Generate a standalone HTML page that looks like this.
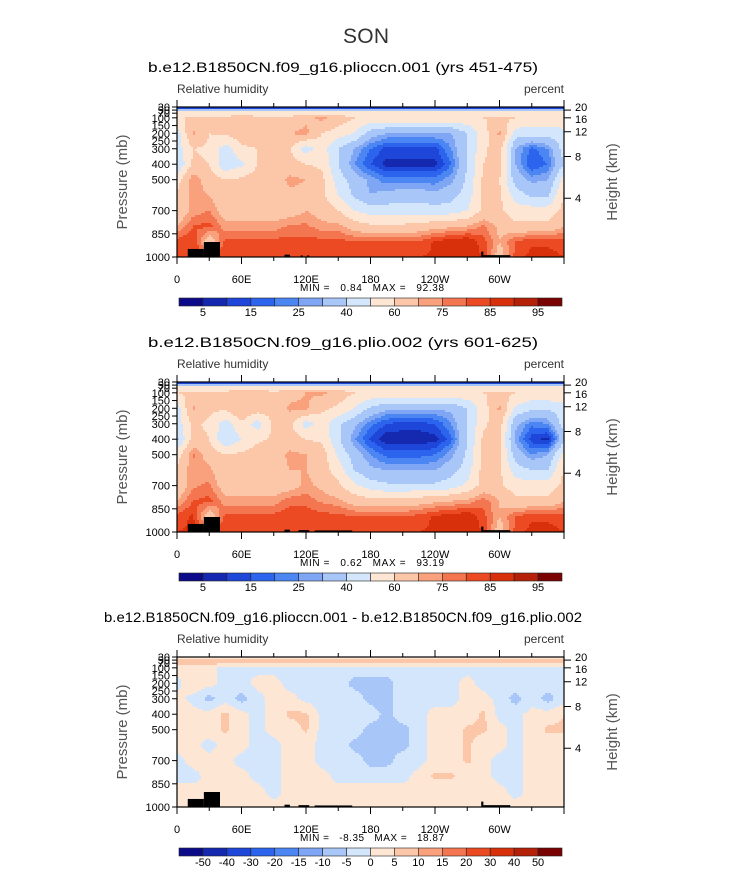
<!DOCTYPE html>
<html><head><meta charset="utf-8"><style>
html,body{margin:0;padding:0;background:#fff;}
svg{display:block;font-family:"Liberation Sans",sans-serif;}
</style></head><body>
<svg id="chart" width="733" height="888" viewBox="0 0 733 888" xmlns="http://www.w3.org/2000/svg">
<text x="366" y="43" text-anchor="middle" font-size="21" font-weight="300" fill="#333" textLength="46">SON</text>
</svg>
<script>
// ---------- DATA ----------
const lons = [0,15,30,45,60,75,90,105,120,135,150,165,180,195,210,225,240,255,270,285,300,315,330,345,360];
const pLevels = [30,60,100,200,300,400,500,600,700,800,900,1000];
const rhLevels = [5,10,15,20,25,30,40,50,60,70,75,80,85,90,95];
const rhLabels = ["5","15","25","40","60","75","85","95"];
const diffLevels = [-50,-40,-30,-20,-15,-10,-5,0,5,10,15,20,30,40,50];
const diffLabels = ["-50","-40","-30","-20","-15","-10","-5","0","5","10","15","20","30","40","50"];
const xTickLons = [0,60,120,180,240,300];
const xTickLabels = ["0","60E","120E","180","120W","60W"];
const pTicks = [30,50,70,100,150,200,250,300,400,500,700,850,1000];
const pTickLabels = ["30","50","70","100","150","200","250","300","400","500","700","850","1000"];
const hTickP = [50,100,190,350,620];
const hTickLabels = ["20","16","12","8","4"];

const rh1 = [
[3,3,3,3,3,3,3,3,3,3,3,3,3,3,3,3,3,3,3,3,3,3,3,3,3],
[52,52,52,52,52,52,52,52,52,52,52,52,52,52,52,52,52,52,52,52,52,52,52,52,52],
[60,60,62,62,66,62,60,62,68,72,66,60,58,58,58,58,58,58,58,60,62,60,58,58,60],
[45,72,60,62,66,65,64,70,72,60,55,50,35,30,30,30,30,30,40,55,72,45,45,45,45],
[45,60,58,45,58,60,65,60,45,55,40,30,20,13,13,13,13,25,40,58,65,30,18,25,45],
[40,62,60,42,48,60,62,65,60,58,40,25,15,8,8,8,8,20,40,60,65,30,15,20,40],
[55,75,65,60,62,65,65,72,70,62,45,35,28,22,22,22,22,28,42,62,60,35,28,30,55],
[62,72,70,62,65,65,65,68,68,62,50,38,30,33,35,35,32,36,45,62,62,45,38,38,62],
[62,72,75,65,65,65,65,65,70,66,60,50,45,45,45,45,45,45,50,62,62,55,55,55,62],
[70,80,82,72,72,72,72,76,76,72,72,65,62,62,62,64,66,68,70,76,68,62,62,62,70],
[82,85,62,82,82,82,82,82,82,82,82,80,80,80,80,80,86,88,90,82,70,80,84,84,82],
[85,85,85,85,85,85,85,85,85,85,85,85,85,85,85,85,86,88,88,85,65,82,87,87,85]];
const rh2 = [
[3,3,3,3,3,3,3,3,3,3,3,3,3,3,3,3,3,3,3,3,3,3,3,3,3],
[52,52,52,52,52,52,52,52,52,52,52,52,52,52,52,52,52,52,52,52,52,52,52,52,52],
[60,62,62,62,68,66,62,66,70,72,66,60,58,58,58,58,58,58,58,60,62,60,58,58,60],
[45,72,62,62,70,66,64,72,72,62,58,50,38,32,32,32,32,32,40,55,72,48,42,42,45],
[45,62,58,45,58,45,62,62,45,55,42,32,22,15,13,13,15,25,40,58,65,32,22,25,45],
[38,64,60,40,50,58,62,65,60,58,42,26,14,6,6,6,8,18,40,62,62,28,12,8,38],
[55,76,65,60,62,65,65,72,70,65,48,35,25,18,18,18,20,28,42,64,62,35,25,30,55],
[62,74,72,62,65,65,65,70,70,65,55,40,32,30,30,30,30,36,45,64,62,45,40,40,62],
[62,74,76,65,65,65,65,66,72,68,62,52,45,42,42,42,42,45,52,64,62,55,55,55,62],
[70,80,82,72,72,72,72,78,78,74,72,66,64,64,64,66,68,70,72,78,70,62,62,62,70],
[82,86,62,82,82,82,82,84,84,82,82,80,80,80,80,82,86,88,90,82,70,80,84,84,82],
[85,86,85,85,85,85,85,85,85,85,85,85,85,85,85,85,86,88,88,85,65,82,87,87,85]];
const dif = [
[3,3,3,3,3,3,3,3,3,3,3,3,3,3,3,3,3,3,3,3,3,3,3,3,3],
[8,8,8,8,8,8,8,8,9,9,8,8,8,8,8,8,8,8,8,8,9,8,8,8,8],
[2,2,2,-2,-2,-2,-2,-2,-2,-2,-2,-2,-2,-2,-2,-2,-2,-2,-2,-2,-2,-2,-2,-2,-2],
[-2,5,2,-2,-2,2,2,-2,-2,-2,-2,-7,-7,-7,-2,-2,-2,-2,2,-2,-2,-2,-2,-2,-2],
[2,-2,-7,-2,-7,-2,2,2,-2,-2,-2,-2,-7,-7,-2,-2,-2,-2,2,2,-2,-7,-2,-7,-2],
[5,2,2,6,2,-2,2,6,6,-2,-2,-2,-2,-7,-2,-2,2,2,2,6,-2,-2,2,2,5],
[5,2,2,6,2,-2,2,2,6,-2,-2,-2,-7,-7,-7,-2,2,2,6,6,2,-2,2,6,6],
[2,2,-2,2,2,-2,-2,2,2,-2,-2,-7,-7,-7,-7,-2,2,2,6,2,2,-2,2,2,2],
[-2,2,2,2,-2,-2,-2,2,2,-2,-2,-2,-7,-7,-2,-2,2,2,6,2,-2,-2,2,2,2],
[-2,-2,2,2,2,-2,-2,2,2,2,-2,-2,-2,-2,-2,2,6,6,2,2,-2,-2,2,2,2],
[2,2,2,2,2,2,-2,2,2,2,2,2,2,2,2,2,2,2,2,2,2,-2,2,2,2],
[2,2,2,2,2,2,2,2,2,2,2,2,2,2,2,2,2,2,2,2,2,2,2,2,2]];
// land mask: [lonStart, lonEnd, topPressure]
const land1 = [[10,25,948],[25,40,903],[100,105,985],[115,117,990],[121,123,990],[283,285,965],[285,310,988]];
const land2 = [[10,25,948],[25,40,903],[100,105,985],[113,123,988],[128,163,990],[283,285,965],[285,310,988]];
const land3 = [[10,25,948],[25,40,903],[100,105,985],[113,123,988],[128,163,990],[283,285,965],[285,310,988]];
const colors = ["#0b0b8a","#1428b0","#1e46d8","#2c64ee","#4c86f2","#7ea6f4","#a8c6f8","#d4e6fb","#fde6d4","#fcc6a8","#f9a07c","#f47650","#ec4a22","#d8300a","#b42008","#7a0202"];

// ---------- DRAW ----------
const NS="http://www.w3.org/2000/svg";
const svg=document.getElementById('chart');
const X0=177,X1=564;
function mk(tag,attrs,parent){const e=document.createElementNS(NS,tag);for(const k in attrs)e.setAttribute(k,attrs[k]);(parent||svg).appendChild(e);return e;}
function xScale(lon){return X0+(lon/360)*(X1-X0);}
function yScale(p,top){return top+(p-30)/970*150;}
function sample(grid,lon,p){
  lon=Math.max(0,Math.min(360,lon));p=Math.max(30,Math.min(1000,p));
  let i=Math.min(Math.floor(lon/15),lons.length-2);let tx=(lon-lons[i])/15;
  let j=0;while(j<pLevels.length-2&&p>pLevels[j+1])j++;
  let ty=(p-pLevels[j])/(pLevels[j+1]-pLevels[j]);
  const a=grid[j][i],b=grid[j][i+1],c=grid[j+1][i],d=grid[j+1][i+1];
  return (a*(1-tx)+b*tx)*(1-ty)+(c*(1-tx)+d*tx)*ty;
}
function colorIdx(v,levels){let k=0;while(k<levels.length&&v>=levels[k])k++;return k;}

function panel(top,grid,levels,land,title,minmax,labels,allLabels,pref){
  const g=mk('g',{});
  
  
  const t=mk('text',{x:343,y:top-35,'text-anchor':'middle','font-size':'14',fill:'#000',textLength:(title.length>50?478:390),lengthAdjust:'spacingAndGlyphs'},g);
  t.textContent=title;
  
  
  const l=mk('text',{x:X0,y:top-14,'font-size':'12',fill:'#333'},g);l.textContent='Relative humidity';
  
  
  const u=mk('text',{x:X1,y:top-14,'font-size':'12',fill:'#333','text-anchor':'end'},g);u.textContent='percent';
  
  
  // contour field
  const field=mk('g',{'shape-rendering':'crispEdges'},g);
  
  
  const cw=2,ch=2;
  for(let y=top;y<top+150;y+=ch){
    const p=30+((y+ch/2)-top)/150*970;
    const hh=Math.min(ch,top+150-y);
    let runStart=X0,runC=-1;
    for(let x=X0;;x+=cw){
      const end=x>=X1;
      let c=-2;
      if(!end){const lon=((x+cw/2)-X0)/(X1-X0)*360;c=colorIdx(sample(grid,lon,p),levels);}
      if(c!==runC){
        if(runC>=0){const r=mk('rect',{x:runStart,y:y,width:Math.min(x,X1)-runStart,height:hh,fill:colors[runC]},field);
          
          }
        runStart=x;runC=c;
      }
      if(end)break;
    }
  }
  land.forEach(s=>{const r=mk('rect',{x:xScale(s[0]),y:yScale(s[2],top),width:xScale(s[1])-xScale(s[0]),height:yScale(1000,top)-yScale(s[2],top),fill:'#000'},g);
    
    });
  const fr=mk('rect',{x:X0,y:top,width:X1-X0,height:150,fill:'none',stroke:'#000','stroke-width':1.2},g);
  
  
  // x ticks
  for(let lon=0;lon<=360;lon+=30){
    const major=lon%60===0,len=major?7:4;const x=xScale(lon);
    mk('line',{x1:x,x2:x,y1:top,y2:top-len,stroke:'#000','stroke-width':1},g);
    mk('line',{x1:x,x2:x,y1:top+150,y2:top+150+len,stroke:'#000','stroke-width':1},g);
  }
  xTickLons.forEach((lon,i)=>{const t=mk('text',{x:xScale(lon),y:top+176,'text-anchor':'middle','font-size':'11',fill:'#000'},g);t.textContent=xTickLabels[i];
    
    });
  // p ticks
  pTicks.forEach((p,i)=>{const y=yScale(p,top);mk('line',{x1:X0,x2:X0-5,y1:y,y2:y,stroke:'#000'},g);
    const t=mk('text',{x:X0-7,y:y+4,'text-anchor':'end','font-size':'11',fill:'#000'},g);t.textContent=pTickLabels[i];
    
    });
  hTickP.forEach((p,i)=>{const y=yScale(p,top);mk('line',{x1:X1,x2:X1+7,y1:y,y2:y,stroke:'#000'},g);
    const t=mk('text',{x:X1+11,y:y+(i===1?5:i===0?1:4),'font-size':'11',fill:'#000'},g);t.textContent=hTickLabels[i];
    
    });
  const ya=mk('text',{x:0,y:0,transform:`translate(127,${top+75}) rotate(-90)`,'text-anchor':'middle','font-size':'15',fill:'#555'},g);ya.textContent='Pressure (mb)';
  
  
  const yb=mk('text',{x:0,y:0,transform:`translate(617,${top+75}) rotate(-90)`,'text-anchor':'middle','font-size':'15',fill:'#555'},g);yb.textContent='Height (km)';
  
  
  const mm=mk('text',{x:372,y:top+184,'text-anchor':'middle','font-size':'10',fill:'#000',style:'white-space:pre',textLength:'144',lengthAdjust:'spacing'},g);mm.textContent=minmax;
  
  
  // colorbar
  const cb=mk('g',{},g);
  
  
  const cx0=179,cx1=562,bw=(cx1-cx0)/16,cy=top+191;
  colors.forEach((c,i)=>{const r=mk('rect',{x:cx0+i*bw,y:cy,width:bw,height:8,fill:c,stroke:'#222','stroke-width':0.6},cb);
    
    });
  labels.forEach((lb,i)=>{const edge=allLabels?i+1:2*i+1;const t=mk('text',{x:cx0+edge*bw,y:top+209,'text-anchor':'middle','font-size':'11',fill:'#000'},cb);t.textContent=lb;
    
    });
}
panel(107,rh1,rhLevels,land1,'b.e12.B1850CN.f09_g16.plioccn.001 (yrs 451-475)','MIN =   0.84   MAX =   92.38',rhLabels,false,'top');
panel(382,rh2,rhLevels,land2,'b.e12.B1850CN.f09_g16.plio.002 (yrs 601-625)','MIN =   0.62   MAX =   93.19',rhLabels,false,'middle');
panel(657,dif,diffLevels,land3,'b.e12.B1850CN.f09_g16.plioccn.001 - b.e12.B1850CN.f09_g16.plio.002','MIN =   -8.35   MAX =   18.87',diffLabels,true,'bottom');
</script>
</body></html>
